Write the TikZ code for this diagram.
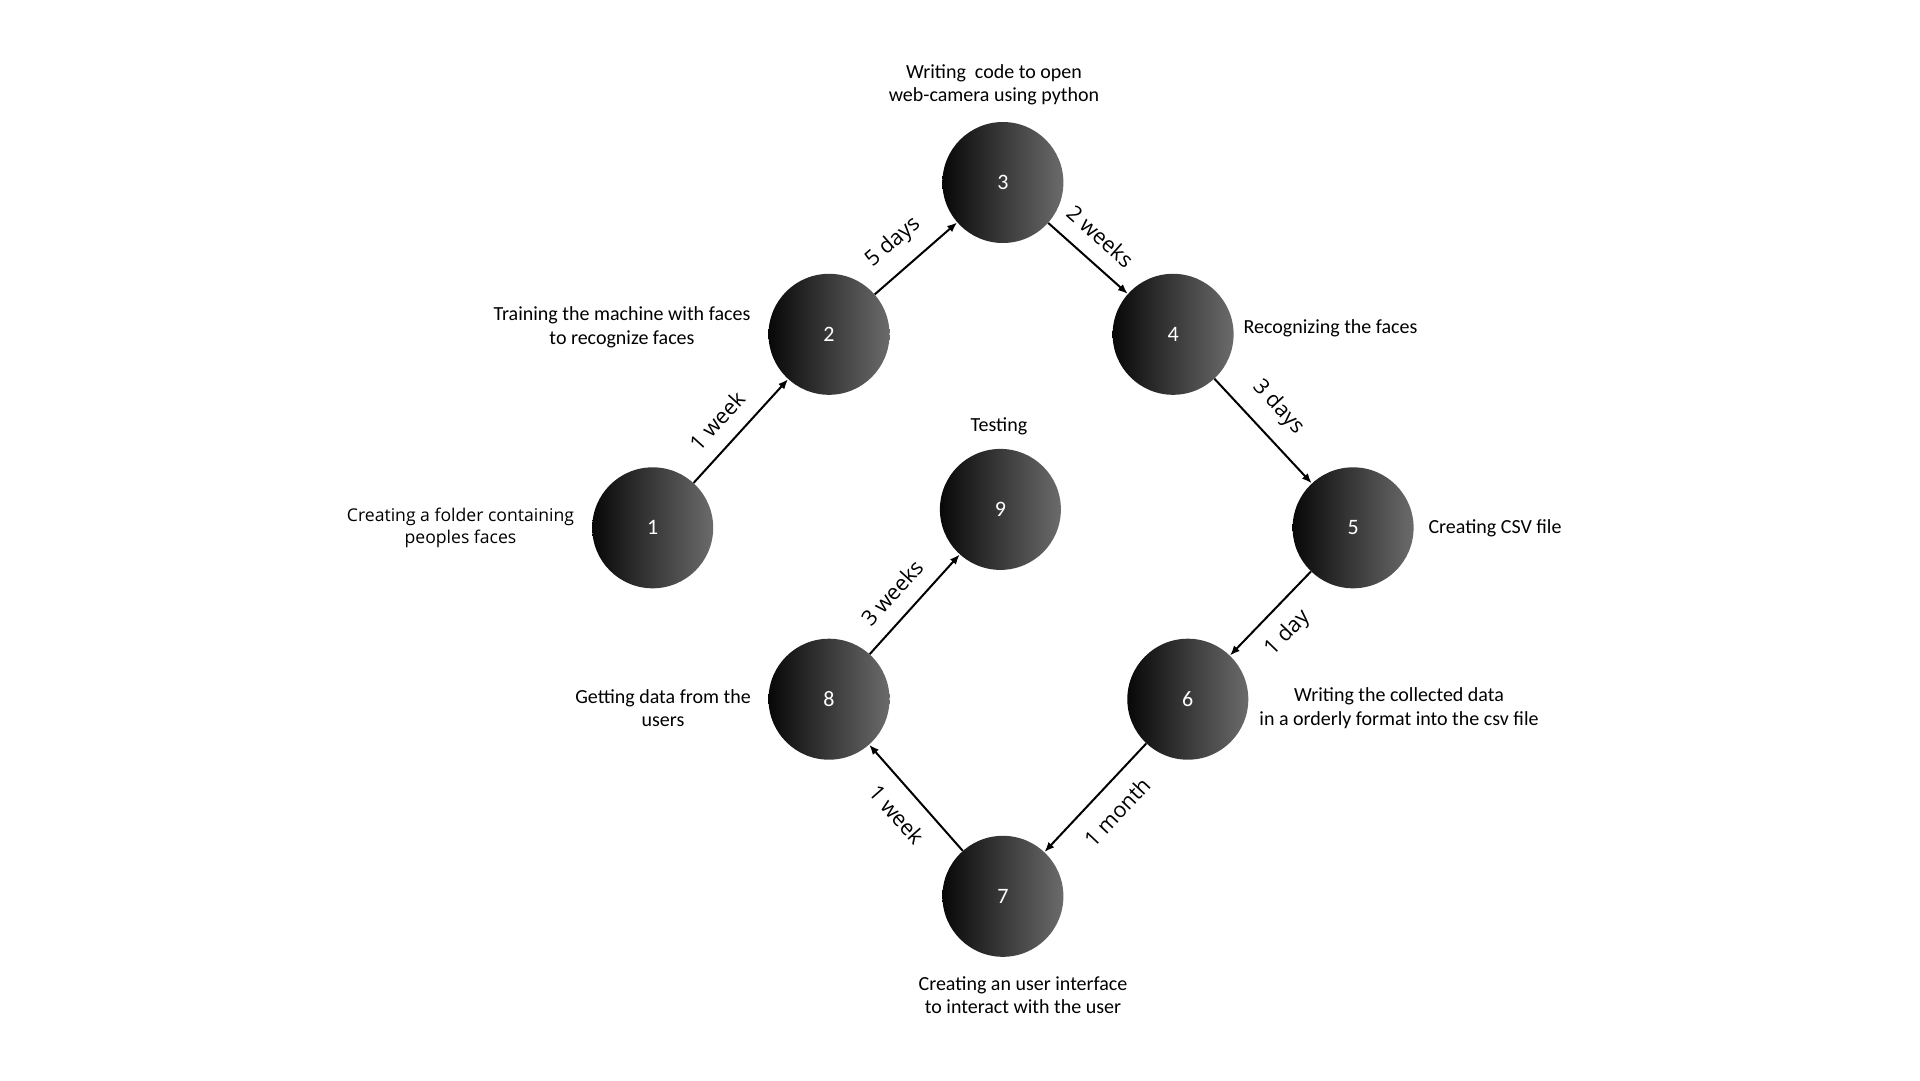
\documentclass[tikz,border=0pt]{standalone}
\usepackage{fontspec}
\setmainfont{Carlito}
\newfontfamily\labfont{Open Sans}
\usetikzlibrary{arrows.meta}
\tikzset{
	circ/.style={circle,minimum size=121pt,inner sep=0pt,left color=black!97,right color=black!58,text=white,font=\fontsize{22}{22}\selectfont},
	desc/.style={align=center,font=\fontsize{20}{23.5}\selectfont},
	descwide/.style={align=center,font=\labfont\fontsize{17.6}{22.5}\selectfont},
	dur/.style={sloped,font=\labfont\fontsize{21.5}{21.5}\selectfont},
	arr/.style={-{Latex[length=10pt,width=8pt]},line width=2pt}
}
\begin{document}
\begin{tikzpicture}[x=1pt,y=-1pt]
	%\draw[help lines] (0,0) grid (1920,1080);
	\useasboundingbox (0,0) rectangle (1920,1080);
	\node[circ] (n1) at (652.7,527.8) {1};
	\node[circ] (n2) at (829.0,334.3) {2};
	\node[circ] (n3) at (1002.9,182.5) {3};
	\node[circ] (n4) at (1173.1,334.3) {4};
	\node[circ] (n5) at (1353.1,527.8) {5};
	\node[circ] (n6) at (1187.8,699.2) {6};
	\node[circ] (n7) at (1002.9,896.3) {7};
	\node[circ] (n8) at (829.0,699.2) {8};
	\node[circ] (n9) at (1000.4,509.4) {9};
	% descriptions
	\node[descwide] (t1) at (460.5,528) {Creating a folder containing\\peoples faces};
	\node[desc] (t2) at (622,327.5) {Training the machine with faces\\to recognize faces};
	\node[desc] (t3) at (994,85) {Writing~ code to open\\web-camera using python};
	\node[desc,anchor=west] (t4) at (1240,328) {Recognizing the faces};
	\node[desc,anchor=west] (t5) at (1425,528) {Creating CSV file};
	\node[desc] (t6) at (1399,708) {Writing the collected data\\in a orderly format into the csv file};
	\node[desc] (t7) at (1023,995) {Creating an user interface\\to interact with the user};
	\node[desc] (t8) at (663,708) {Getting data from the\\users};
	\node[desc] (t9) at (999,426) {Testing};
	% arrows
	\draw[arr] (n1) -- node[dur,pos=0.44,above=12pt]{1 week} (n2);
	\draw[arr] (n2) -- node[dur,pos=0.44,above=12pt]{5 days} (n3);
	\draw[arr] (n3) -- node[dur,pos=0.45,above=12pt]{2 weeks} (n4);
	\draw[arr] (n4) -- node[dur,pos=0.45,above=12pt]{3 days} (n5);
	\draw[arr] (n5) -- node[dur,pos=0.52,below=11pt]{1 day} (n6);
	\draw[arr] (n6) -- node[dur,pos=0.47,below=13pt]{1 month} (n7);
	\draw[arr] (n7) -- node[dur,pos=0.5,below=13pt]{1 week} (n8);
	\draw[arr] (n8) -- node[dur,pos=0.45,above=12pt]{3 weeks} (n9);
\end{tikzpicture}
\end{document}
